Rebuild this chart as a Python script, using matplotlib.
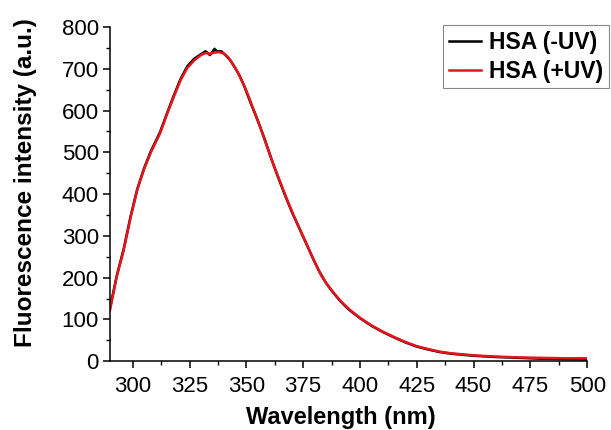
import matplotlib
matplotlib.use("Agg")
import matplotlib.pyplot as plt
from matplotlib.ticker import MultipleLocator

plt.rcParams['font.family'] = ['Liberation Sans', 'DejaVu Sans']

# Emission spectra of HSA before and after UV exposure
wl_minus = [290, 293, 296, 299, 302, 305, 308, 312, 315, 318, 321, 324, 327,
            330, 332, 333, 334, 335, 336, 337, 339, 341, 343, 345, 347, 349,
            352, 355, 358, 361, 364, 367, 370, 373, 376, 379, 382, 385, 388,
            391, 395, 400, 405, 410, 415, 420, 425, 430, 435, 440, 450, 460,
            470, 480, 490, 500]
int_minus = [127, 205, 268, 345, 412, 462, 503, 548, 592, 635, 675, 706, 724,
             735, 742, 738, 733, 740, 748, 742, 742, 732, 720, 703, 684, 660,
             617, 577, 533, 485, 440, 398, 358, 322, 286, 250, 216, 188, 166,
             146, 124, 103, 85, 70, 57, 45, 35, 28, 22, 18, 13, 10,
             8, 6, 5, 4]

wl_plus = [290, 293, 296, 299, 302, 305, 308, 312, 315, 318, 321, 324, 327,
           330, 332, 334, 336, 338, 340, 342, 344, 346, 348, 350, 353, 356,
           359, 362, 365, 368, 371, 374, 377, 380, 383, 386, 389, 392, 396,
           400, 405, 410, 415, 420, 425, 430, 435, 440, 450, 460, 470, 480,
           490, 500]
int_plus = [122, 203, 265, 342, 410, 460, 500, 545, 590, 632, 672, 702, 720,
            733, 738, 736, 739, 740, 737, 728, 712, 694, 672, 648, 605, 562,
            515, 470, 428, 386, 347, 311, 275, 238, 205, 180, 160, 141, 121,
            104, 86, 71, 58, 46, 36, 29, 23, 19, 14, 11, 9, 8,
            7, 7]

x_ticks = [300, 325, 350, 375, 400, 425, 450, 475, 500]
y_ticks = [0, 100, 200, 300, 400, 500, 600, 700, 800]

fig = plt.figure(figsize=(6.11, 4.30), dpi=100)
ax = fig.add_axes([0.180, 0.160, 0.781, 0.777])

ax.plot(wl_minus, int_minus, color='black', lw=1.8, label='HSA (-UV)')
ax.plot(wl_plus, int_plus, color='#e8141c', lw=1.8, label='HSA (+UV)')

ax.set_xlim(290, 500)
ax.set_ylim(0, 800)
ax.set_xticks(x_ticks)
ax.set_yticks(y_ticks)
ax.xaxis.set_minor_locator(MultipleLocator(12.5))
ax.yaxis.set_minor_locator(MultipleLocator(50))

for side in ('top', 'right'):
    ax.spines[side].set_visible(False)
for side in ('left', 'bottom'):
    ax.spines[side].set_linewidth(1.1)

ax.tick_params(which='major', direction='out', length=5, width=1.1,
               labelsize=16)
ax.tick_params(axis='x', which='major', pad=6)
ax.tick_params(axis='y', which='major', pad=3)
ax.tick_params(which='minor', direction='out', length=3, width=1.0)

ax.set_xlabel('Wavelength (nm)', fontsize=17, fontweight='bold')
ax.set_ylabel('Fluorescence intensity (a.u.)', fontsize=17.5,
              fontweight='bold')
ax.xaxis.set_label_coords(0.484, -0.133)
ax.yaxis.set_label_coords(-0.153, 0.536)

leg = ax.legend(loc='upper right', bbox_to_anchor=(1.046, 1.006),
                borderaxespad=0,
                prop={'weight': 'bold', 'size': 16.5},
                handlelength=1.4, handletextpad=0.35, labelspacing=0.25,
                borderpad=0.25, fancybox=False, framealpha=1)
leg.get_frame().set_edgecolor('#888888')
leg.get_frame().set_linewidth(0.8)

fig.savefig('out.png', dpi=100)
